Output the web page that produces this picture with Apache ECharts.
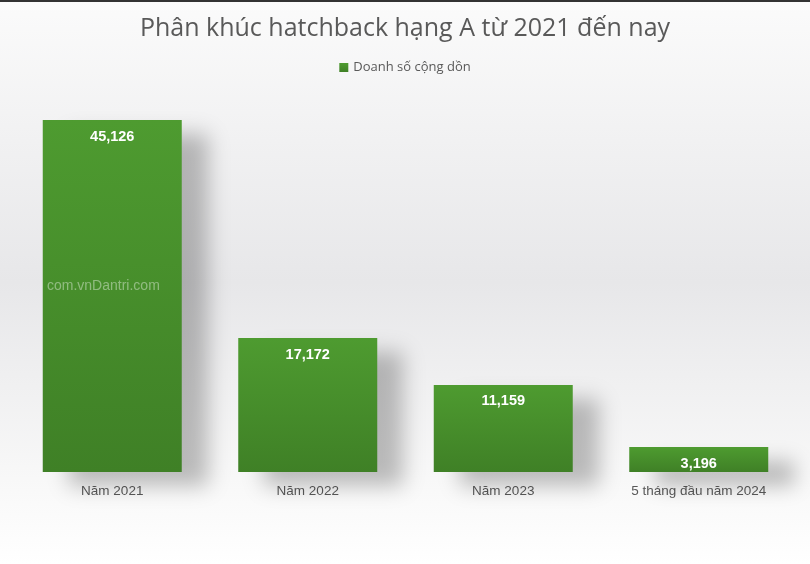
<!DOCTYPE html>
<html><head><meta charset="utf-8">
<script src="https://cdn.jsdelivr.net/npm/echarts@6/dist/echarts.min.js"></script>
<style>html,body{margin:0;padding:0;background:#fff}#c{width:810px;height:564px}</style>
</head><body><div id="c"></div>
<script>
var categories = ['Năm 2021', 'Năm 2022', 'Năm 2023', '5 tháng đầu năm 2024'];
var salesValues = [45126, 17172, 11159, 3196];
var seriesName = 'Doanh số cộng dồn';
var titleText = 'Phân khúc hatchback hạng A từ 2021 đến nay';

var chart = echarts.init(document.getElementById('c'), null, {renderer: 'canvas'});
var font = '"Open Sans", "Noto Sans", sans-serif';
var font2 = '"Liberation Sans", Arial, sans-serif';
chart.setOption({
  backgroundColor: {
    type: 'linear', x: 0, y: 0, x2: 0, y2: 1,
    colorStops: [
      {offset: 0, color: '#fbfbfb'},
      {offset: 0.5, color: '#e7e7e9'},
      {offset: 0.85, color: '#f8f8f8'},
      {offset: 1, color: '#ffffff'}
    ]
  },
  animation: false,
  title: {
    text: titleText, left: 'center', top: 11,
    textStyle: {fontFamily: font, fontSize: 25, fontWeight: 'normal', color: '#595959'}
  },
  legend: {
    data: [seriesName], top: 56, left: 'center',
    icon: 'rect', itemWidth: 9, itemHeight: 9, itemGap: 4,
    textStyle: {fontFamily: font, fontSize: 13, color: '#595959'}
  },
  grid: {left: 14.5, right: 13.5, top: 82, bottom: 92},
  xAxis: {
    type: 'category', data: categories,
    axisLine: {show: false}, axisTick: {show: false},
    axisLabel: {fontFamily: font2, fontSize: 13.5, color: '#595959', margin: 12}
  },
  yAxis: {
    type: 'value', min: 0, max: 50000, show: false,
    splitLine: {show: false}
  },
  series: [{
    name: seriesName, type: 'bar', data: salesValues, barWidth: 139,
    itemStyle: {
      color: {type: 'linear', x: 0, y: 0, x2: 0, y2: 1,
        colorStops: [{offset: 0, color: '#4e9b30'}, {offset: 1, color: '#3f8026'}]},
      shadowColor: 'rgba(0,0,0,0.25)', shadowBlur: 20, shadowOffsetX: 26, shadowOffsetY: 14
    },
    label: {
      show: true, position: 'insideTop', distance: 9,
      formatter: function (p) { return p.value.toLocaleString('en-US'); },
      fontFamily: font2, fontSize: 14.5, fontWeight: 'bold', color: '#ffffff'
    }
  }],
  graphic: [
    {type: 'rect', left: 0, top: 0, shape: {width: 810, height: 2}, style: {fill: '#333'}},
    {type: 'text', left: 47, top: 279, z: 100,
      style: {text: 'com.vnDantri.com', fill: 'rgba(255,255,255,0.4)', font: '14px "Liberation Sans Narrow", "Liberation Sans", sans-serif'}}
  ]
});
</script></body></html>
